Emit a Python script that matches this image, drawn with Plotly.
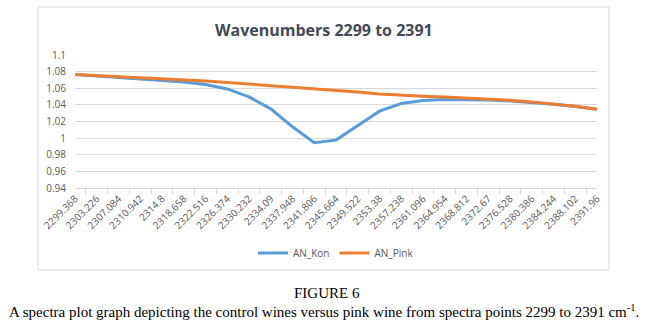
import plotly.graph_objects as go

wavenumbers = ["2299.368", "2303.226", "2307.084", "2310.942", "2314.8", "2318.658", "2322.516",
               "2326.374", "2330.232", "2334.09", "2337.948", "2341.806", "2345.664", "2349.522",
               "2353.38", "2357.238", "2361.096", "2364.954", "2368.812", "2372.67", "2376.528",
               "2380.386", "2384.244", "2388.102", "2391.96"]
an_kon = [1.0764, 1.0748, 1.0728, 1.0712, 1.0696, 1.0676, 1.0644, 1.0592, 1.0496, 1.0352,
          1.0136, 0.9944, 0.9976, 1.0152, 1.0324, 1.0416, 1.0452, 1.0464, 1.0464, 1.0460,
          1.0448, 1.0432, 1.0408, 1.0380, 1.0348]
an_pink = [1.0764, 1.0752, 1.0740, 1.0728, 1.0716, 1.0702, 1.0688, 1.0670, 1.0652, 1.0632,
           1.0612, 1.0592, 1.0576, 1.0554, 1.0532, 1.0516, 1.0504, 1.0494, 1.0484, 1.0472,
           1.0456, 1.0436, 1.0412, 1.0384, 1.0348]
y_ticks = [0.94, 0.96, 0.98, 1.0, 1.02, 1.04, 1.06, 1.08, 1.1]
y_tick_labels = ["0.94", "0.96", "0.98", "1", "1.02", "1.04", "1.06", "1.08", "1.1"]

W, H = 653, 325
L, R, T, B = 75, 597, 55, 188

fig = go.Figure()
fig.add_trace(go.Scatter(x=wavenumbers, y=an_kon, mode="lines", name="AN_Kon",
                         line=dict(color="#5B9BD5", width=3)))
fig.add_trace(go.Scatter(x=wavenumbers, y=an_pink, mode="lines", name="AN_Pink",
                         line=dict(color="#ED7D31", width=3)))

def px_x(p):
    return (p - L) / (R - L)

def px_y(p):
    return (B - p) / (B - T)

fig.add_shape(type="rect", xref="paper", yref="paper",
              x0=px_x(38), x1=px_x(609), y0=px_y(270), y1=px_y(7),
              line=dict(color="#D9D9D9", width=1), layer="below")

fig.add_annotation(text="<b>Wavenumbers 2299 to 2391</b>", xref="paper", yref="paper",
                   x=px_x(323.5), y=px_y(30), showarrow=False, xanchor="center", yanchor="middle",
                   font=dict(family="Open Sans", size=16, color="#404A58"))
fig.add_annotation(text="FIGURE 6", xref="paper", yref="paper",
                   x=px_x(326.5), y=px_y(292.5), showarrow=False, xanchor="center", yanchor="middle",
                   font=dict(family="Liberation Serif", size=15, color="#000000"))
fig.add_annotation(text="A spectra plot graph depicting the control wines versus pink wine from spectra points 2299 to 2391 cm<sup>-1</sup>.",
                   xref="paper", yref="paper",
                   x=px_x(323.5), y=px_y(311), showarrow=False, xanchor="center", yanchor="middle",
                   font=dict(family="Liberation Serif", size=15, color="#000000"))

fig.update_layout(
    width=W, height=H,
    margin=dict(l=L, r=W - R, t=T, b=H - B),
    paper_bgcolor="white", plot_bgcolor="white",
    showlegend=True,
    legend=dict(orientation="h", x=0.5, xanchor="center", y=px_y(253), yanchor="middle",
                font=dict(family="Open Sans", size=10, color="#595959"), itemwidth=30),
    xaxis=dict(type="category", tickangle=-45, showgrid=False, showline=True,
               linecolor="#D9D9D9", linewidth=1, ticks="outside", tickson="boundaries",
               ticklen=5, tickcolor="#D9D9D9",
               tickfont=dict(family="Open Sans", size=10, color="#595959")),
    yaxis=dict(range=[0.94, 1.1], tickvals=y_ticks, ticktext=y_tick_labels,
               showgrid=True, gridcolor="#D9D9D9", gridwidth=1, zeroline=False,
               showline=False, ticks="", ticklabelstandoff=8,
               tickfont=dict(family="Open Sans", size=10, color="#595959")),
)

fig.write_html("out.html", config={"displayModeBar": False},
               post_script="document.body.style.margin='0';document.body.style.overflow='hidden';")
